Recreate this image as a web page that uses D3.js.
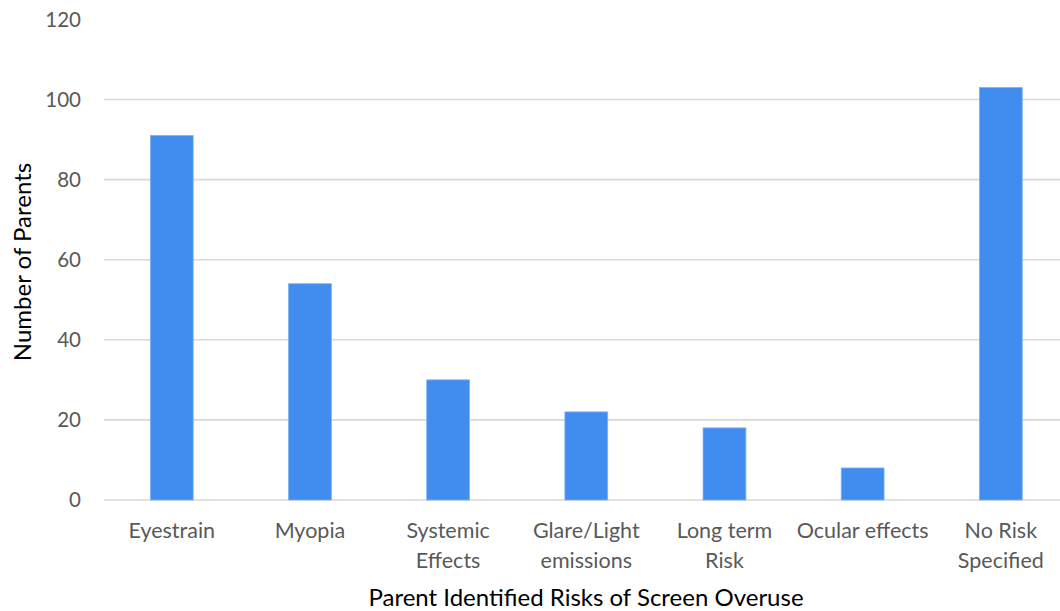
<!DOCTYPE html>
<html lang="en">
<head>
  <meta charset="UTF-8">
  <title>Parent Identified Risks of Screen Overuse</title>
  <script src="https://d3js.org/d3.v7.min.js"></script>
  <style>
    body { margin: 0; background: #fff; }
    text { font-family: Lato, "Open Sans", sans-serif; fill: #595959; }
  </style>
</head>
<body>
<script>
  var categories = [["Eyestrain"], ["Myopia"], ["Systemic", "Effects"], ["Glare/Light", "emissions"],
                    ["Long term", "Risk"], ["Ocular effects"], ["No Risk", "Specified"]];
  var values = [91, 54, 30, 22, 18, 8, 103];
  var yTicks = [0, 20, 40, 60, 80, 100, 120];

  var width = 1060, height = 611;
  var svg = d3.select('body').append('svg').attr('width', width).attr('height', height);

  var x = d3.scaleBand()
    .domain(d3.range(categories.length))
    .range([102.7, 1069.9])
    .paddingInner(0.69)
    .paddingOuter(0.345);
  var y = d3.scaleLinear().domain([0, 120]).range([500, 19.4]);

  // gridlines
  svg.append('g').selectAll('line').data(yTicks).enter().append('line')
    .attr('x1', 104).attr('x2', width)
    .attr('y1', function(d) { return y(d); })
    .attr('y2', function(d) { return y(d); })
    .attr('stroke', function(d) { return d === 120 ? 'none' : '#d9d9d9'; })
    .attr('stroke-width', 1.6);

  // y tick labels
  svg.append('g').selectAll('text').data(yTicks).enter().append('text')
    .attr('x', 81).attr('y', function(d) { return y(d); })
    .attr('dy', '0.36em')
    .attr('text-anchor', 'end')
    .attr('font-size', '20.5px')
    .text(function(d) { return d; });

  // bars
  svg.append('g').selectAll('rect').data(values).enter().append('rect')
    .attr('x', function(d, i) { return x(i); })
    .attr('y', function(d) { return y(d); })
    .attr('width', x.bandwidth())
    .attr('height', function(d) { return y(0) - y(d); })
    .attr('fill', '#418cef')
    .attr('stroke', '#7fb0f3')
    .attr('stroke-width', 0.8);

  // category labels
  var lab = svg.append('g').selectAll('text').data(categories).enter().append('text')
    .attr('x', function(d, i) { return x(i) + x.bandwidth() / 2; })
    .attr('y', 538)
    .attr('text-anchor', 'middle')
    .attr('font-size', '21.5px');
  lab.selectAll('tspan').data(function(d) { return d; }).enter().append('tspan')
    .attr('x', function() { return d3.select(this.parentNode).attr('x'); })
    .attr('dy', function(d, i) { return i === 0 ? 0 : 30; })
    .text(function(d) { return d; });

  // axis titles
  svg.append('text')
    .attr('x', 586).attr('y', 606)
    .attr('text-anchor', 'middle')
    .attr('font-size', '24px')
    .style('fill', '#000')
    .text('Parent Identified Risks of Screen Overuse');

  svg.append('text')
    .attr('transform', 'translate(31,262) rotate(-90)')
    .attr('text-anchor', 'middle')
    .attr('font-size', '24px')
    .style('fill', '#000')
    .text('Number of Parents');
</script>
</body>
</html>
